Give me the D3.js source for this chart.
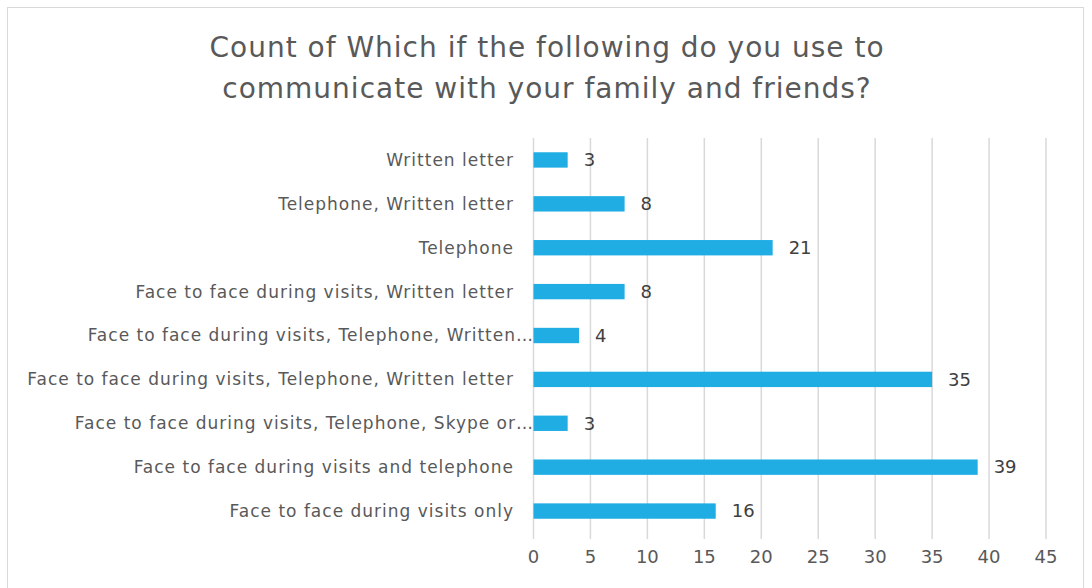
<!DOCTYPE html>
<html><head><meta charset="utf-8">
<script src="https://cdn.jsdelivr.net/npm/d3@7"></script>
<style>body{margin:0;background:#fff}svg{display:block}</style>
</head><body>
<script>
const categories = [
  "Written letter",
  "Telephone, Written letter",
  "Telephone",
  "Face to face during visits, Written letter",
  "Face to face during visits, Telephone, Written…",
  "Face to face during visits, Telephone, Written letter",
  "Face to face during visits, Telephone, Skype or…",
  "Face to face during visits and telephone",
  "Face to face during visits only"
];
const values = [3, 8, 21, 8, 4, 35, 3, 39, 16];
const xTicks = [0, 5, 10, 15, 20, 25, 30, 35, 40, 45];
const titleLines = ["Count of Which if the following do you use to", "communicate with your family and friends?"];

const W = 1092, H = 588;
const font = "'DejaVu Sans', sans-serif";
const svg = d3.select("body").append("svg").attr("width", W).attr("height", H);
svg.append("rect").attr("x", 7.5).attr("y", 7.5).attr("width", 1076).attr("height", 590)
  .attr("fill", "#fff").attr("stroke", "#d9d9d9");

const x = d3.scaleLinear().domain([0, 45]).range([533.5, 1046]);
const y = d3.scaleBand().domain(categories).range([138, 533]).paddingInner(0.65).paddingOuter(0.325);

svg.append("g").selectAll("line").data(xTicks).join("line")
  .attr("x1", d => x(d)).attr("x2", d => x(d)).attr("y1", 138).attr("y2", 539)
  .attr("stroke", "#d9d9d9").attr("stroke-width", 1.5);

svg.append("g").selectAll("rect").data(values).join("rect")
  .attr("x", x(0)).attr("y", (d, i) => y(categories[i]))
  .attr("width", d => x(d) - x(0)).attr("height", y.bandwidth())
  .attr("fill", "#1fade4");

svg.append("g").selectAll("text").data(values).join("text")
  .attr("x", d => x(d) + 16).attr("y", (d, i) => y(categories[i]) + y.bandwidth() / 2)
  .attr("dy", "0.35em").attr("font-family", font).attr("font-size", 18).attr("fill", "#404040")
  .text(d => d);

svg.append("g").selectAll("text").data(categories).join("text")
  .attr("x", (d) => d.endsWith("…") ? 534 : 514).attr("y", d => y(d) + y.bandwidth() / 2)
  .attr("dy", "0.35em").attr("text-anchor", "end").attr("font-family", font).attr("font-size", 17)
  .attr("letter-spacing", 1).attr("fill", "#595959").text(d => d);

svg.append("g").selectAll("text").data(xTicks).join("text")
  .attr("x", d => x(d)).attr("y", 557).attr("dy", "0.35em").attr("text-anchor", "middle")
  .attr("font-family", font).attr("font-size", 18).attr("fill", "#595959").text(d => d);

svg.append("g").selectAll("text").data(titleLines).join("text")
  .attr("x", 547).attr("y", (d, i) => 57 + i * 41).attr("text-anchor", "middle")
  .attr("font-family", font).attr("font-size", 28).attr("letter-spacing", 1)
  .attr("fill", "#595959").text(d => d);
</script>
</body></html>
